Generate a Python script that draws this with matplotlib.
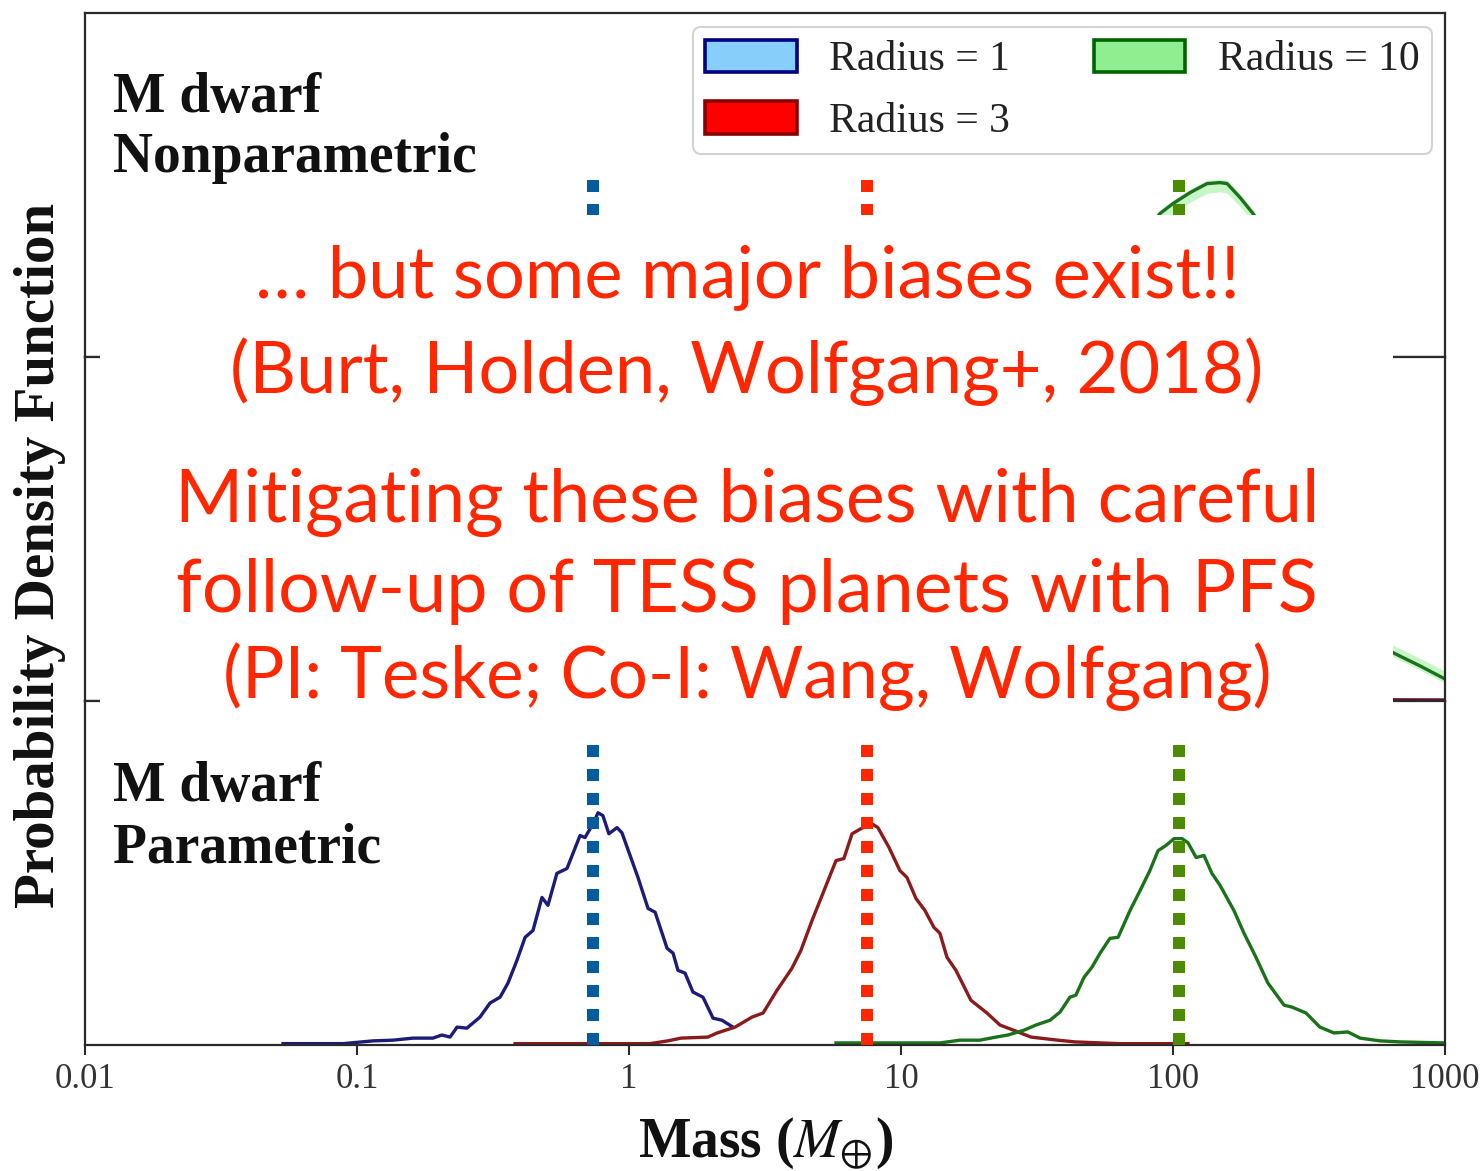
import numpy as np
import matplotlib
matplotlib.use("Agg")
import matplotlib.pyplot as plt
from matplotlib.patches import Patch, Rectangle
from matplotlib.lines import Line2D
from matplotlib import transforms

# ---------------- data ----------------
# Bottom panel: M dwarf, parametric model (log10 mass, pdf)
par_r1_logm = [-1.272, -1.051, -0.941, -0.868, -0.794, -0.721, -0.688, -0.658, -0.632, -0.596,
               -0.548, -0.511, -0.474, -0.445, -0.412, -0.382, -0.353, -0.320, -0.298, -0.265,
               -0.228, -0.180, -0.162, -0.132, -0.114, -0.096, -0.074, -0.044, -0.026, 0.004,
               0.033, 0.070, 0.096, 0.140, 0.162, 0.180, 0.206, 0.235, 0.272, 0.309, 0.342, 0.382]
par_r1_pdf = [0.004, 0.004, 0.012, 0.014, 0.020, 0.020, 0.029, 0.023, 0.052, 0.049,
              0.081, 0.122, 0.139, 0.180, 0.246, 0.313, 0.333, 0.429, 0.406, 0.499,
              0.513, 0.609, 0.603, 0.643, 0.675, 0.667, 0.614, 0.632, 0.617, 0.551,
              0.487, 0.397, 0.386, 0.281, 0.267, 0.217, 0.209, 0.154, 0.139, 0.078, 0.072, 0.052]

par_r3_logm = [-0.419, -0.151, 0.077, 0.143, 0.191, 0.290, 0.324, 0.390, 0.452, 0.493,
               0.544, 0.599, 0.632, 0.673, 0.713, 0.761, 0.790, 0.820, 0.853, 0.893,
               0.915, 0.956, 0.996, 1.022, 1.055, 1.088, 1.121, 1.143, 1.169, 1.202,
               1.257, 1.316, 1.364, 1.430, 1.478, 1.577, 1.640, 1.801, 2.055]
par_r3_pdf = [0.004, 0.004, 0.004, 0.012, 0.020, 0.023, 0.035, 0.052, 0.081, 0.093,
              0.159, 0.223, 0.275, 0.362, 0.441, 0.536, 0.542, 0.614, 0.629, 0.643,
              0.632, 0.574, 0.507, 0.487, 0.426, 0.391, 0.342, 0.325, 0.255, 0.217,
              0.130, 0.093, 0.058, 0.038, 0.023, 0.014, 0.009, 0.004, 0.004]

par_r10_logm = [0.761, 1.143, 1.217, 1.290, 1.349, 1.393, 1.452, 1.496, 1.548, 1.585,
                1.621, 1.643, 1.673, 1.702, 1.732, 1.768, 1.798, 1.842, 1.879, 1.915,
                1.945, 1.974, 2.004, 2.033, 2.055, 2.085, 2.114, 2.143, 2.173, 2.224,
                2.261, 2.305, 2.349, 2.408, 2.438, 2.489, 2.540, 2.592, 2.643, 2.688,
                2.761, 2.835, 3.000]
par_r10_pdf = [0.006, 0.006, 0.014, 0.014, 0.023, 0.029, 0.043, 0.058, 0.072, 0.096,
               0.139, 0.145, 0.197, 0.226, 0.267, 0.310, 0.313, 0.391, 0.449, 0.507,
               0.565, 0.580, 0.600, 0.600, 0.588, 0.545, 0.551, 0.499, 0.464, 0.391,
               0.325, 0.255, 0.180, 0.116, 0.110, 0.093, 0.052, 0.035, 0.038, 0.020,
               0.012, 0.009, 0.006]

# Top panel: M dwarf, nonparametric model, Radius = 10 (with credible band)
np_r10_logm = [1.20, 1.40, 1.60, 1.75, 1.85, 1.952, 2.000, 2.063, 2.125, 2.173,
               2.199, 2.246, 2.294, 2.40, 2.50, 2.60, 2.70, 2.76]
np_r10_pdf = [0.000, 0.020, 0.080, 0.200, 0.310, 0.417, 0.446, 0.478, 0.504, 0.507,
              0.504, 0.464, 0.417, 0.300, 0.180, 0.090, 0.030, 0.000]
np_r10_lo = [0.000, 0.012, 0.060, 0.175, 0.285, 0.390, 0.418, 0.450, 0.476, 0.480,
             0.476, 0.438, 0.392, 0.280, 0.165, 0.080, 0.024, 0.000]
np_r10_hi = [0.000, 0.026, 0.090, 0.212, 0.322, 0.428, 0.456, 0.488, 0.514, 0.517,
             0.514, 0.475, 0.428, 0.312, 0.190, 0.098, 0.036, 0.000]

# Middle panel
mid_r10_logm = [1.20, 1.50, 1.70, 1.90, 2.05, 2.20, 2.40, 2.60, 2.81, 2.908, 3.00]
mid_r10_pdf = [0.000, 0.050, 0.150, 0.320, 0.430, 0.420, 0.330, 0.230, 0.140, 0.102, 0.064]
mid_r10_lo = [0.000, 0.040, 0.138, 0.305, 0.415, 0.405, 0.316, 0.218, 0.128, 0.090, 0.052]
mid_r10_hi = [0.000, 0.066, 0.170, 0.342, 0.452, 0.442, 0.352, 0.252, 0.162, 0.124, 0.086]
mid_r3_logm = [-0.40, 0.00, 0.40, 0.70, 0.90, 1.10, 1.40, 1.80, 2.20, 2.60, 3.00]
mid_r3_pdf = [0.000, 0.060, 0.300, 0.520, 0.560, 0.450, 0.200, 0.040, 0.008, 0.004, 0.003]

# Reference masses marked by dotted lines
ref_masses = [0.74, 7.5, 105.0]
ref_colors = ["#065a9e", "#ff2600", "#4c8c00"]

tick_values = [0.01, 0.1, 1, 10, 100, 1000]
tick_labels = ["0.01", "0.1", "1", "10", "100", "1000"]

legend_labels = ["Radius = 1", "Radius = 3", "Radius = 10"]
legend_faces = ["lightskyblue", "red", "lightgreen"]
legend_edges = ["navy", "darkred", "darkgreen"]

line_blue, line_red, line_green = "#1c1c78", "#8b1a1a", "#1a721a"

overlay_lines = ["\u2026 but some major biases exist!!",
                 "(Burt, Holden, Wolfgang+, 2018)",
                 "Mitigating these biases with careful",
                 "follow-up of TESS planets with PFS",
                 "(PI: Teske; Co-I: Wang, Wolfgang)"]

# ---------------- figure ----------------
plt.rcParams["font.family"] = ["Liberation Serif", "DejaVu Serif"]
plt.rcParams["mathtext.fontset"] = "stix"

W, H, DPI = 1483, 1171, 100
fig = plt.figure(figsize=(W / DPI, H / DPI), dpi=DPI)
px = lambda x: x / W
py = lambda y: 1 - y / H

left, right = px(85), px(1445)
top, bottom = py(13), py(1045)
ph = (top - bottom) / 3
axes = []
for i in range(3):
    ax = fig.add_axes([left, top - (i + 1) * ph, right - left, ph])
    axes.append(ax)
ax_top, ax_mid, ax_bot = axes

for ax in axes:
    ax.set_xscale("log")
    ax.set_xlim(0.01, 1000)
    ax.set_ylim(0, 1)
    ax.set_yticks([])
    ax.minorticks_off()
    for s in ax.spines.values():
        s.set_color("#2a2a2a")
        s.set_linewidth(1.6)
        s.set_zorder(4)
    ax.tick_params(axis="x", which="both", bottom=False, labelbottom=False)

lw = 2.4
# top panel
m = 10 ** np.array(np_r10_logm)
ax_top.fill_between(m, np_r10_lo, np_r10_hi, color="lightgreen", alpha=0.5, lw=0)
ax_top.plot(m, np_r10_pdf, color=line_green, lw=lw)

# middle panel
m = 10 ** np.array(mid_r10_logm)
ax_mid.fill_between(m, mid_r10_lo, mid_r10_hi, color="lightgreen", alpha=0.5, lw=0)
ax_mid.plot(m, mid_r10_pdf, color=line_green, lw=lw)
ax_mid.plot(10 ** np.array(mid_r3_logm), mid_r3_pdf, color="#6a0f1f", lw=lw)

# bottom panel
ax_bot.plot(10 ** np.array(par_r1_logm), par_r1_pdf, color=line_blue, lw=lw)
ax_bot.plot(10 ** np.array(par_r3_logm), par_r3_pdf, color=line_red, lw=lw)
ax_bot.plot(10 ** np.array(par_r10_logm), par_r10_pdf, color=line_green, lw=lw)
ax_bot.tick_params(axis="x", which="major", bottom=True, labelbottom=True,
                   length=7, width=1.5, color="#2a2a2a", labelsize=25,
                   labelcolor="#333333", pad=6)
ax_bot.set_xticks(tick_values)
ax_bot.set_xticklabels(tick_labels)

# panel labels
label_kw = dict(fontsize=40, fontweight="bold", color="#111111", va="baseline", ha="left")
ax_top.text((113 - 85) / 1360, (356 - 112) / 343, "M dwarf", transform=ax_top.transAxes, **label_kw)
ax_top.text((113 - 85) / 1360, (356 - 172) / 343, "Nonparametric", transform=ax_top.transAxes, **label_kw)
ax_bot.text((113 - 85) / 1360, (1045 - 800) / 345, "M dwarf", transform=ax_bot.transAxes, **label_kw)
ax_bot.text((113 - 85) / 1360, (1045 - 862) / 345, "Parametric", transform=ax_bot.transAxes, **label_kw)

# legend
handles = [Patch(facecolor=f, edgecolor=e, lw=2.6, label=l)
           for f, e, l in zip(legend_faces, legend_edges, legend_labels)]
leg = ax_top.legend(handles=handles, ncol=2, loc="upper right",
                    bbox_to_anchor=((1432 - 85) / 1360, (356 - 27) / 343),
                    borderaxespad=0, fontsize=30, handlelength=2.2, handleheight=0.84,
                    handletextpad=0.78, columnspacing=2.0, labelspacing=0.52,
                    borderpad=0.3, frameon=True, fancybox=True, framealpha=0.85)
leg.get_frame().set_edgecolor("#cccccc")
leg.get_frame().set_linewidth(1.5)
for t in leg.get_texts():
    t.set_color("#222222")

# axis titles
fig.text(px(40), py(555), "Probability Density Function", rotation=90,
         ha="center", va="center", fontsize=41, fontweight="bold", color="#111111")
fig.text(px(766), py(1157), r"Mass ($M_{\oplus}$)", ha="center", va="baseline",
         fontsize=40, fontweight="bold", color="#111111")

# dotted reference-mass lines: a short piece in the upper panel and the full
# height of the lower panel, each with its dash pattern anchored at the outer end
blend = transforms.blended_transform_factory(ax_bot.transData, fig.transFigure)
dot_kw = dict(lw=12 * 72 / DPI, linestyle=(0, (1, 1)), solid_capstyle="butt",
              dash_capstyle="butt", zorder=5)
for mass, col in zip(ref_masses, ref_colors):
    fig.add_artist(Line2D([mass, mass], [py(180), py(740)], transform=blend, color=col, **dot_kw))
    fig.add_artist(Line2D([mass, mass], [bottom, py(740)], transform=blend, color=col, **dot_kw))

# overlay box with annotation
fig.add_artist(Rectangle((px(100), py(741)), px(1393) - px(100), py(215) - py(741),
                         transform=fig.transFigure, facecolor="white",
                         edgecolor="none", zorder=10))
baselines = [298, 393, 522, 612, 698]
sizes = [52, 52, 53, 53, 51]
for txt, yb, fs in zip(overlay_lines, baselines, sizes):
    fig.text(px(747), py(yb), txt, ha="center", va="baseline", fontsize=fs,
             family=["Lato", "DejaVu Sans"], color="#ff2600", zorder=11)

fig.savefig("out.png", dpi=DPI)
